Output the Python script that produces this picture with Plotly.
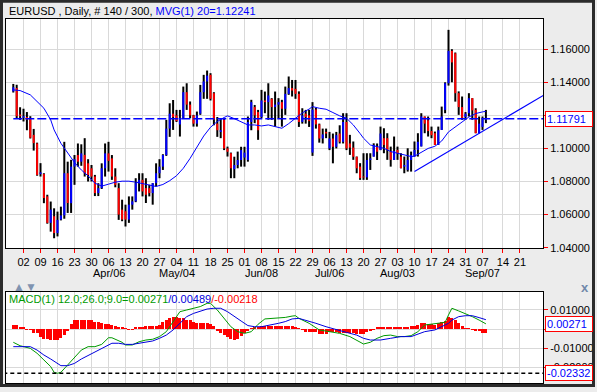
import plotly.graph_objects as go

# ---------------- data ----------------
open_ = [1.1345,1.1365,1.1205,1.1185,1.1190,1.1180,1.1082,1.1030,1.0845,1.0845,
         1.0710,1.0550,1.0590,1.0488,1.0570,1.0595,1.0850,1.0669,1.0890,1.0960,
         1.0920,1.0961,1.0910,1.0880,1.0830,1.0730,1.0760,1.0880,1.0970,1.0940,
         1.0830,1.0760,1.0630,1.0620,1.0570,1.0660,1.0680,1.0790,1.0810,1.0760,
         1.0760,1.0730,1.0790,1.0850,1.0890,1.0960,1.1120,1.1210,1.1200,1.1145,
         1.1185,1.1340,1.1265,1.1200,1.1150,1.1210,1.1340,1.1405,1.1445,1.1334,
         1.1150,1.1100,1.1173,1.1000,1.0971,1.0875,1.0900,1.0930,1.0945,1.0930,
         1.1160,1.1250,1.1220,1.1190,1.1290,1.1280,1.1300,1.1250,1.1265,1.1280,
         1.1240,1.1330,1.1365,1.1360,1.1330,1.1160,1.1210,1.1200,1.0975,1.1235,
         1.1145,1.1060,1.1100,1.1000,1.1060,1.1010,1.1090,1.1040,1.1160,1.1030,
         1.1005,1.0950,1.0890,1.0830,1.0825,1.0930,1.0950,1.1010,1.0990,1.1062,
         1.1062,1.0981,1.0930,1.0991,1.0951,1.0890,1.0870,1.0930,1.0951,1.0991,
         1.1012,1.1193,1.1170,1.1105,1.1092,1.1021,1.1112,1.1233,1.1394,1.1590,
         1.1575,1.1334,1.1250,1.1190,1.1213,1.1304,1.1233,1.1092,1.1130,1.1175]
high = [1.1390,1.1385,1.1249,1.1240,1.1220,1.1195,1.1118,1.1035,1.0911,1.0850,
        1.0720,1.0679,1.0638,1.0618,1.0648,1.1040,1.0920,1.0931,1.0960,1.1030,
        1.1025,1.1062,1.0935,1.0900,1.0840,1.0790,1.0910,1.1030,1.1040,1.0960,
        1.0880,1.0790,1.0690,1.0660,1.0710,1.0710,1.0820,1.0850,1.0850,1.0820,
        1.0780,1.0790,1.0910,1.0935,1.0965,1.1173,1.1273,1.1293,1.1233,1.1233,
        1.1374,1.1394,1.1284,1.1203,1.1223,1.1384,1.1445,1.1471,1.1455,1.1340,
        1.1190,1.1183,1.1180,1.1011,1.0975,1.0950,1.0981,1.1010,1.1010,1.1193,
        1.1294,1.1263,1.1233,1.1354,1.1344,1.1394,1.1304,1.1344,1.1304,1.1294,
        1.1374,1.1435,1.1414,1.1414,1.1345,1.1243,1.1233,1.1233,1.1280,1.1245,
        1.1150,1.1120,1.1120,1.1100,1.1090,1.1100,1.1140,1.1213,1.1213,1.1082,
        1.1042,1.0951,1.0911,1.0971,1.0971,1.0971,1.1031,1.1030,1.1132,1.1122,
        1.1092,1.1011,1.1072,1.1011,1.0971,1.0951,1.1001,1.0981,1.1042,1.1092,
        1.1213,1.1193,1.1193,1.1132,1.1102,1.1132,1.1253,1.1400,1.1717,1.1600,
        1.1580,1.1345,1.1314,1.1220,1.1334,1.1304,1.1243,1.1193,1.1193,1.1233]
low = [1.1338,1.1180,1.1173,1.1163,1.1110,1.1060,1.0987,1.0835,1.0830,1.0669,
       1.0545,1.0497,1.0457,1.0468,1.0565,1.0575,1.0610,1.0610,1.0780,1.0890,
       1.0895,1.0830,1.0800,1.0800,1.0712,1.0712,1.0755,1.0830,1.0860,1.0810,
       1.0765,1.0568,1.0560,1.0528,1.0550,1.0630,1.0675,1.0740,1.0710,1.0670,
       1.0710,1.0660,1.0770,1.0820,1.0870,1.0955,1.1070,1.1112,1.1160,1.1072,
       1.1180,1.1233,1.1183,1.1132,1.1132,1.1203,1.1300,1.1300,1.1290,1.1140,
       1.1070,1.1062,1.0990,1.0951,1.0820,1.0820,1.0880,1.0890,1.0890,1.0920,
       1.1110,1.1153,1.1052,1.1183,1.1213,1.1173,1.1173,1.1132,1.1183,1.1132,
       1.1203,1.1324,1.1314,1.1300,1.1130,1.1150,1.1150,1.1130,1.0955,1.1120,
       1.1035,1.1030,1.1062,1.0990,1.0910,1.1000,1.1030,1.1030,1.0990,1.0961,
       1.0931,1.0850,1.0810,1.0810,1.0810,1.0870,1.0951,1.0930,1.0990,1.0971,
       1.0931,1.0890,1.0930,1.0931,1.0880,1.0850,1.0860,1.0860,1.0951,1.0951,
       1.1012,1.1092,1.1072,1.1062,1.1021,1.1021,1.1112,1.1213,1.1380,1.1400,
       1.1283,1.1203,1.1173,1.1173,1.1193,1.1173,1.1092,1.1092,1.1112,1.1153]
close = [1.1370,1.1195,1.1195,1.1195,1.1175,1.1065,1.1032,1.0840,1.0855,1.0700,
         1.0550,1.0630,1.0488,1.0568,1.0595,1.0850,1.0670,1.0890,1.0935,1.0920,
         1.0970,1.0850,1.0840,1.0830,1.0730,1.0760,1.0880,1.0970,1.0925,1.0830,
         1.0780,1.0600,1.0570,1.0570,1.0660,1.0680,1.0790,1.0810,1.0740,1.0720,
         1.0730,1.0790,1.0850,1.0890,1.0960,1.1120,1.1210,1.1190,1.1165,1.1185,
         1.1340,1.1265,1.1200,1.1150,1.1200,1.1340,1.1405,1.1440,1.1300,1.1175,
         1.1110,1.1110,1.1000,1.0980,1.0880,1.0900,1.0930,1.0990,1.0975,1.1160,
         1.1280,1.1200,1.1110,1.1290,1.1280,1.1320,1.1250,1.1265,1.1280,1.1240,
         1.1330,1.1365,1.1350,1.1330,1.1160,1.1200,1.1190,1.1165,1.1235,1.1145,
         1.1060,1.1085,1.1090,1.1060,1.1010,1.1080,1.1040,1.1160,1.1000,1.1005,
         1.0950,1.0880,1.0820,1.0825,1.0930,1.0940,1.1020,1.0980,1.1090,1.1021,
         1.0990,1.0931,1.0985,1.0971,1.0880,1.0900,1.0930,1.0960,1.0991,1.1040,
         1.1193,1.1150,1.1105,1.1080,1.1021,1.1110,1.1193,1.1394,1.1590,1.1520,
         1.1334,1.1250,1.1185,1.1210,1.1304,1.1230,1.1092,1.1150,1.1175,1.1179]

# 20-period moving average, read at these bar indices
ma_idx = [0,2,5,7,9,11,12,14,16,18,20,22,24,26,28,30,32,34,36,38,40,42,44,46,48,50,52,54,56,58,
          60,62,63,65,67,69,71,73,75,77,79,81,83,85,87,88,90,92,94,96,98,100,102,103,105,107,109,
          111,113,115,117,118,120,122,124,126,128,130,132,134,136,138,139]
ma_val = [1.1354,1.1350,1.1324,1.1284,1.1243,1.1173,1.1112,1.1031,1.0971,1.0915,1.0870,1.0834,
          1.0790,1.0772,1.0784,1.0796,1.0802,1.0802,1.0796,1.0788,1.0778,1.0770,1.0782,1.0805,
          1.0835,1.0880,1.0940,1.1005,1.1075,1.1128,1.1163,1.1187,1.1197,1.1180,1.1160,1.1142,
          1.1142,1.1136,1.1142,1.1132,1.1122,1.1150,1.1185,1.1215,1.1238,1.1253,1.1243,1.1237,
          1.1217,1.1197,1.1183,1.1142,1.1090,1.1062,1.1021,1.1011,1.1001,1.0981,1.0971,1.0965,
          1.0951,1.0953,1.0978,1.1000,1.1013,1.1045,1.1100,1.1132,1.1160,1.1190,1.1211,1.1221,1.12241]

# MACD line (green) and signal line (blue), read at these bar indices
macd_idx = [0,2,5,7,9,11,12,13,14,16,18,20,22,24,26,28,29,30,32,33,35,37,39,41,43,45,47,49,51,53,
            55,57,58,60,62,64,66,68,70,72,74,76,78,80,82,83,84,87,90,93,96,99,102,103,105,107,109,
            111,113,115,117,119,121,123,125,127,128,129,131,133,135,137,139]
macd_val = [-0.0070,-0.0088,-0.0102,-0.0128,-0.0163,-0.0198,-0.0228,-0.02332,-0.0228,-0.0189,
            -0.0146,-0.0111,-0.0093,-0.0093,-0.0081,-0.0046,-0.0046,-0.0053,-0.0070,-0.0084,
            -0.0084,-0.0067,-0.0058,-0.0054,-0.0040,-0.0014,0.0039,0.0091,0.0100,0.0109,
            0.0118,0.0135,0.0135,0.0100,0.0056,0.0012,-0.0014,-0.0023,-0.0014,0.0025,
            0.0053,0.0056,0.0056,0.0061,0.0068,0.0070,0.0056,0.0030,-0.0005,-0.0014,
            -0.0023,-0.0040,-0.0067,-0.0079,-0.0070,-0.0049,-0.0035,-0.0032,-0.0040,-0.0040,
            -0.0035,-0.0014,0.0021,0.0025,0.0030,0.0035,0.0074,0.0109,0.0095,0.0082,
            0.0065,0.0047,0.00271]
sig_idx = [0,2,5,7,9,11,13,14,16,18,20,22,24,26,28,29,31,33,35,37,39,41,43,45,47,49,51,53,55,57,
           59,61,63,65,67,69,71,73,75,77,78,80,82,84,86,89,92,95,98,101,103,105,108,111,114,117,
           119,121,124,126,128,129,131,133,135,137,139]
sig_val = [-0.0093,-0.0093,-0.0093,-0.0111,-0.0137,-0.0158,-0.0181,-0.0193,-0.0193,-0.0181,
           -0.0158,-0.0140,-0.0119,-0.0102,-0.0084,-0.0075,-0.0075,-0.0081,-0.0081,-0.0075,
           -0.0070,-0.0063,-0.0049,-0.0032,-0.0005,0.0030,0.0065,0.0082,0.0095,0.0105,
           0.0109,0.0109,0.0091,0.0065,0.0042,0.0018,0.0012,0.0012,0.0018,0.0025,
           0.0030,0.0039,0.0053,0.0056,0.0047,0.0030,0.0012,-0.0005,-0.0018,-0.0032,
           -0.0049,-0.0058,-0.0058,-0.0049,-0.0040,-0.0040,-0.0028,-0.0014,-0.0005,0.0012,
           0.0030,0.0047,0.0065,0.0070,0.0070,0.0060,0.00489]
hist = [0.0021,0.0021,0.0010,0.0010,-0.0005,-0.0005,-0.0020,-0.0020,-0.0040,-0.0050,
        -0.0055,-0.0060,-0.0060,-0.0060,-0.0045,-0.0030,-0.0010,0.0025,0.0047,0.0047,
        0.0047,0.0047,0.0045,0.0045,0.0039,0.0039,0.0030,0.0028,0.0028,0.0020,
        0.0015,0.0010,0.0008,0.0002,-0.0005,-0.0005,0.0008,0.0012,0.0012,0.0015,
        0.0018,0.0018,0.0018,0.0020,0.0035,0.0045,0.0056,0.0065,0.0062,0.0060,
        0.0060,0.0050,0.0045,0.0035,0.0032,0.0030,0.0030,0.0030,0.0028,0.0015,
        -0.0010,-0.0020,-0.0030,-0.0040,-0.0055,-0.0058,-0.0050,-0.0035,-0.0023,-0.0010,
        0.0002,0.0010,0.0012,0.0015,0.0015,0.0015,0.0014,0.0014,0.0015,0.0016,
        0.0015,0.0015,0.0014,0.0013,0.0005,-0.0005,-0.0015,-0.0015,-0.0015,-0.0015,
        -0.0028,-0.0028,-0.0025,-0.0015,-0.0015,-0.0018,-0.0023,-0.0020,-0.0020,-0.0020,
        -0.0022,-0.0025,-0.0025,-0.0025,-0.0015,-0.0010,-0.0005,0.0012,0.0012,0.0012,
        0.0012,0.0010,0.0010,0.0012,0.0010,0.0012,0.0012,0.0015,0.0018,0.0020,
        0.0030,0.0030,0.0028,0.0025,0.0022,0.0030,0.0035,0.0040,0.0065,0.0060,
        0.0045,0.0030,0.0018,0.0005,0.0002,-0.0005,-0.0008,-0.0012,-0.0020,-0.00218]

last_price = 1.11791
macd_min = -0.02332
trend_idx = [118, 156]
trend_val = [1.0860, 1.1322]

tick_pos = [3,8,13,18,23,28,33,38,43,48,53,58,63,68,73,78,83,88,93,98,103,108,113,118,123,128,133,138,144,149]
tick_day = ["02","09","16","23","30","06","13","20","27","04","11","18","25","01","08","15","22","29",
            "06","13","20","27","03","10","17","24","31","07","14","21"]
month_pos = [28, 48, 73, 93, 113, 138]
month_lbl = ["Apr/06", "May/04", "Jun/08", "Jul/06", "Aug/03", "Sep/07"]
price_ticks = [1.04, 1.06, 1.08, 1.10, 1.12, 1.14, 1.16]
price_labels = ["1.04000", "1.06000", "1.08000", "1.10000", "", "1.14000", "1.16000"]
macd_ticks = [-0.02, -0.01, 0.0, 0.01]
macd_labels = ["-0.02000", "-0.01000", "", "0.01000"]

# ---------------- figure ----------------
FONT = "Liberation Sans, Arial, sans-serif"
idx = list(range(len(close)))

wx, wy = [], []
ux, uy, dx, dy = [], [], [], []
for i in idx:
    wx += [i, i, None]; wy += [low[i], high[i], None]
    if close[i] >= open_[i]:
        ux += [i, i, None]; uy += [open_[i], close[i], None]
    else:
        dx += [i, i, None]; dy += [open_[i], close[i], None]

fig = go.Figure()
fig.add_trace(go.Scatter(x=wx, y=wy, mode="lines", line=dict(color="black", width=2),
                         hoverinfo="skip", showlegend=False))
fig.add_trace(go.Scatter(x=ux, y=uy, mode="lines", line=dict(color="#0000ff", width=2),
                         hoverinfo="skip", showlegend=False))
fig.add_trace(go.Scatter(x=dx, y=dy, mode="lines", line=dict(color="#ff0000", width=2),
                         hoverinfo="skip", showlegend=False))
fig.add_trace(go.Scatter(x=ma_idx, y=ma_val, mode="lines", line=dict(color="#0000ff", width=1),
                         showlegend=False))
fig.add_trace(go.Scatter(x=trend_idx, y=trend_val, mode="lines", line=dict(color="#0000ff", width=1.2),
                         showlegend=False))
fig.add_trace(go.Scatter(x=[0, 160], y=[last_price, last_price], mode="lines",
                         line=dict(color="#0000ff", width=1.6, dash="9px,3px"), showlegend=False))

# MACD panel
fig.add_trace(go.Bar(x=idx, y=hist, marker=dict(color="#ff0000", line=dict(width=0)), width=0.85,
                     xaxis="x2", yaxis="y2", showlegend=False))
fig.add_trace(go.Scatter(x=macd_idx, y=macd_val, mode="lines", line=dict(color="#009a00", width=1),
                         xaxis="x2", yaxis="y2", showlegend=False))
fig.add_trace(go.Scatter(x=sig_idx, y=sig_val, mode="lines", line=dict(color="#0000dd", width=1),
                         xaxis="x2", yaxis="y2", showlegend=False))
fig.add_trace(go.Scatter(x=[-5, 160], y=[macd_min, macd_min], mode="lines",
                         line=dict(color="black", width=1.5, dash="4px,3px"),
                         xaxis="x2", yaxis="y2", showlegend=False))

W, H = 597, 392
L, R, T, B = 6, 54, 19, 9
pw, ph = W - L - R, H - T - B


def px(xp):
    return (xp - L) / pw


def py(yp):
    return (H - B - yp) / ph


x_lo = (L - 13.3) / 3.4
x_hi = (W - R - 13.3) / 3.4

axis_common = dict(showline=True, linecolor="black", linewidth=1, mirror=True,
                   gridcolor="#d9d9d9", gridwidth=1, zeroline=False, automargin=False)

fig.update_layout(
    width=W, height=H,
    margin=dict(l=L, r=R, t=T, b=B, pad=0, autoexpand=False),
    paper_bgcolor="#ececec", plot_bgcolor="white",
    font=dict(family=FONT, size=11, color="black"),
    bargap=0,
    xaxis=dict(domain=[0, 1], range=[x_lo, x_hi], anchor="y", tickmode="array",
               tickvals=tick_pos, ticktext=tick_day, tickangle=0, ticks="outside", ticklen=4,
               tickcolor="#ff0000", tickfont=dict(size=11), showgrid=True, **axis_common),
    xaxis2=dict(domain=[0, 1], range=[x_lo, x_hi], anchor="y2", matches="x", tickmode="array",
                tickvals=tick_pos, showticklabels=False, ticks="", showgrid=True, **axis_common),
    yaxis=dict(domain=[py(248), 1], range=[1.0398, 1.17826], side="right", anchor="x",
               tickmode="array", tickvals=price_ticks, ticktext=price_labels,
               ticks="outside", ticklen=4, tickcolor="#ff0000", showgrid=True, **axis_common),
    yaxis2=dict(domain=[0, py(292)], range=[-0.02842, 0.01947], side="right", anchor="x2",
                tickmode="array", tickvals=macd_ticks, ticktext=macd_labels,
                ticks="outside", ticklen=4, tickcolor="#ff0000", showgrid=True, **axis_common),
)

ann = []
ann.append(dict(xref="paper", yref="paper", x=px(7), y=py(11), xanchor="left", yanchor="middle",
                showarrow=False, font=dict(size=11, color="black"),
                text="EURUSD , Daily, # 140 / 300, <span style='color:#0000ff'>MVG(1) 20=1.12241</span>"))
ann.append(dict(xref="paper", yref="paper", x=px(7), y=py(299), xanchor="left", yanchor="middle",
                showarrow=False, font=dict(size=11, color="#009a00"),
                text="MACD(1) 12.0;26.0;9.0=0.00271<span style='color:#0000dd'>/0.00489</span>"
                     "<span style='color:#ff0000'>/-0.00218</span>"))
for mp, ml in zip(month_pos, month_lbl):
    ann.append(dict(xref="x", yref="paper", x=mp, y=py(273), xanchor="center", yanchor="middle",
                    showarrow=False, font=dict(size=11, color="black"), text=ml))
ann.append(dict(xref="paper", yref="paper", x=px(11), y=py(287), xanchor="left", yanchor="middle",
                showarrow=False, font=dict(size=12, color="#8093b0"), text="▲▼"))
ann.append(dict(xref="paper", yref="paper", x=px(585), y=py(287), xanchor="center", yanchor="middle",
                showarrow=False, font=dict(size=13, color="#7088aa"), text="<b>x</b>"))
for val, yr, txt in [(last_price, "y", "1.11791"), (0.00271, "y2", "0.00271"), (macd_min, "y2", "-0.02332")]:
    ann.append(dict(xref="paper", yref=yr, x=px(545), y=val, xanchor="left", yanchor="middle",
                    showarrow=False, text=txt, font=dict(size=11, color="#0000ff"),
                    bgcolor="white", bordercolor="#ff0000", borderwidth=1, borderpad=1,
                    width=44, align="left"))
fig.update_layout(annotations=ann)

fig.add_shape(type="rect", xref="paper", yref="paper", x0=px(1.5), x1=px(593.5), y0=py(385.5), y1=py(1.2),
              line=dict(color="#2b2b2b", width=3), fillcolor="rgba(0,0,0,0)", layer="above")

fig.write_html("out.html", config={"displayModeBar": False},
               post_script="document.body.style.margin='0';document.body.style.overflow='hidden';")
